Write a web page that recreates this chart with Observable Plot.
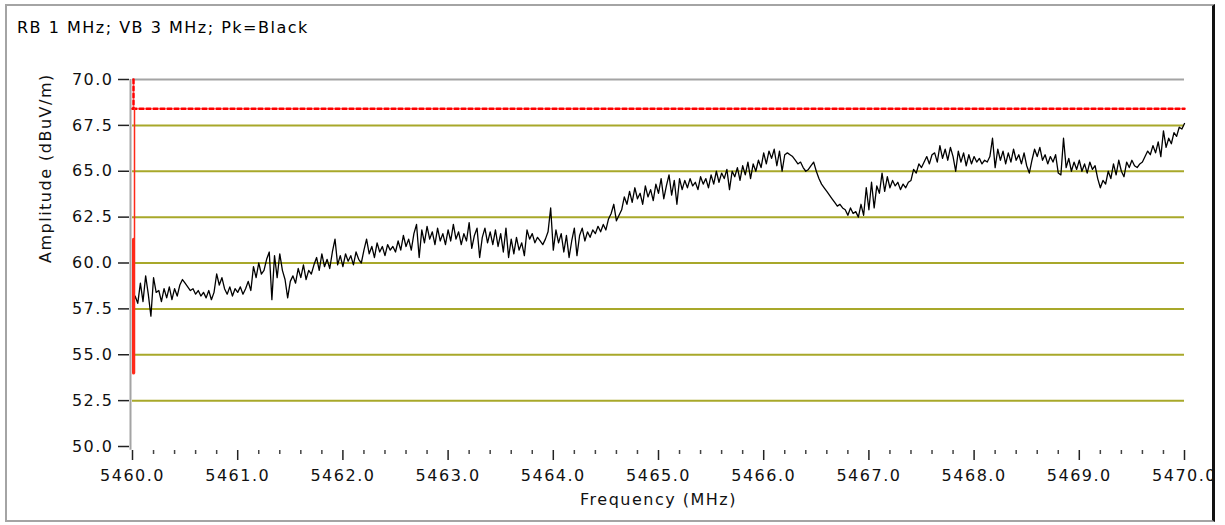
<!DOCTYPE html>
<html>
<head>
<meta charset="utf-8">
<script src="https://cdn.jsdelivr.net/npm/d3@7"></script>
<script src="https://cdn.jsdelivr.net/npm/@observablehq/plot@0.6"></script>
<style>
  html, body { margin: 0; padding: 0; background: #fff; }
  #wrap { position: relative; width: 1225px; height: 525px; overflow: hidden; background: #fff; }
  #border { position: absolute; left: 5px; top: 4px; width: 1210px; height: 518px; box-sizing: border-box;
            border-left: 2px solid #a4a4a4; border-top: 2px solid #a4a4a4; border-bottom: 2px solid #a4a4a4;
            border-right: 3px solid #111; z-index: 5; pointer-events: none; }
  #title { position: absolute; left: 17px; top: 18px; font-family: "DejaVu Sans", sans-serif; font-size: 16px;
           letter-spacing: 1.5px; color: #000; white-space: pre; }
  #chart { position: absolute; left: 0; top: 50px; width: 1212px; height: 472px; overflow: hidden; }
  #chart svg text { letter-spacing: 1.5px; }
</style>
</head>
<body>
<div id="wrap">
  <div id="title"></div>
  <div id="chart"></div>
  <div id="border"></div>
</div>
<script>
// ---- data ----
const titleText = "RB 1 MHz; VB 3 MHz; Pk=Black";
const xLabel = "Frequency (MHz)";
const yLabel = "Amplitude (dBuV/m)";

const sweepStart = 5460.0;   // MHz
const sweepStop = 5470.0;    // MHz

// peak trace (dBuV/m), equally spaced samples across the sweep
const amplitude = [
  57.6, 58.2, 57.8, 58.9, 57.9, 59.3, 58.3, 57.1, 59.2, 58.4,
  58.5, 57.9, 58.6, 58.1, 58.7, 58.0, 58.6, 58.2, 58.8, 59.1,
  58.9, 58.7, 58.5, 58.6, 58.3, 58.5, 58.2, 58.4, 58.1, 58.5,
  58.0, 58.4, 59.4, 58.8, 59.2, 58.6, 58.3, 58.7, 58.2, 58.6,
  58.4, 58.7, 58.3, 58.6, 59.0, 58.5, 59.8, 59.2, 60.0, 59.4,
  59.6, 60.2, 60.6, 58.0, 60.4, 59.2, 60.5, 59.6, 59.1, 58.1,
  59.0, 59.3, 58.9, 59.7, 59.2, 59.9, 59.1, 59.6, 59.4, 59.9,
  60.3, 59.6, 60.5, 59.8, 60.2, 59.7, 60.6, 61.3, 59.9, 60.4,
  59.8, 60.5, 60.1, 60.4, 59.9, 60.6, 60.2, 60.0, 60.7, 61.3,
  60.5, 60.9, 60.3, 61.1, 60.6, 60.9, 60.4, 61.0, 60.7, 60.9,
  60.6, 61.2, 60.7, 61.5, 60.9, 61.3, 60.7, 61.6, 62.1, 60.3,
  61.8, 61.1, 62.0, 61.3, 61.7, 61.0, 61.9, 61.2, 61.6, 61.0,
  61.8, 61.2, 62.1, 61.3, 61.7, 61.0, 61.6, 61.2, 62.2, 60.8,
  61.5, 61.9, 60.3, 61.4, 61.9, 61.1, 61.7, 61.0, 61.8, 60.9,
  61.6, 60.6, 61.9, 60.3, 61.3, 60.5, 61.4, 60.7, 61.1, 60.4,
  61.8, 61.3, 61.6, 61.1, 61.4, 61.2, 61.0, 61.3, 61.7, 63.0,
  60.7, 61.8, 61.1, 61.6, 60.6, 61.5, 60.3, 61.2, 61.9, 60.4,
  61.5, 61.9, 61.2, 61.7, 61.4, 61.8, 61.6, 62.0, 61.7, 62.1,
  61.8, 62.4, 62.7, 63.2, 62.3, 62.6, 62.9, 63.6, 63.2, 63.9,
  63.3, 64.1, 63.5, 63.8, 63.2, 64.2, 63.6, 64.0, 63.4, 64.3,
  63.8, 64.6, 63.5, 64.2, 64.8, 63.7, 64.5, 63.2, 64.6, 64.0,
  64.5, 64.1, 64.6, 64.2, 64.4, 64.0, 64.7, 64.3, 64.6, 64.1,
  64.8, 64.3, 65.0, 64.4, 64.9, 64.6, 65.1, 64.0, 65.0, 64.7,
  65.2, 64.5, 65.3, 64.8, 65.5, 64.6, 65.4, 65.0, 65.6, 65.2,
  66.0, 65.4, 66.1, 65.7, 66.2, 65.3, 66.1, 65.0, 65.9, 66.0,
  65.9, 65.8, 65.6, 65.4, 65.5, 65.2, 65.0, 65.1, 65.3, 65.5,
  65.0, 64.6, 64.3, 64.1, 63.9, 63.7, 63.5, 63.3, 63.1, 63.2,
  63.0, 62.9, 62.6, 63.0, 62.7, 62.8, 62.5, 63.2, 62.6, 64.1,
  62.9, 64.4, 63.0, 64.2, 63.8, 64.9, 63.9, 64.7, 64.1, 64.5,
  64.2, 64.4, 64.0, 64.3, 64.1, 64.4, 64.5, 65.1, 64.9, 65.4,
  65.2, 65.5, 65.8, 65.4, 65.9, 66.0, 65.5, 66.4, 65.7, 66.2,
  65.6, 66.3, 65.8, 65.0, 66.1, 65.5, 66.0, 65.3, 65.9, 65.4,
  65.8, 65.5, 65.7, 65.4, 65.6, 65.5, 65.8, 66.8, 65.2, 66.2,
  65.6, 66.1, 65.4, 66.0, 65.5, 66.2, 65.6, 65.9, 65.4, 66.0,
  65.3, 64.9, 65.6, 66.2, 65.8, 66.3, 65.6, 65.9, 65.4, 65.8,
  65.5, 65.9, 64.9, 64.8, 66.8, 65.2, 65.7, 65.0, 65.5, 65.1,
  65.6, 65.0, 65.4, 64.9, 65.5, 65.1, 65.3, 64.6, 64.1, 64.5,
  64.3, 65.0, 64.6, 65.4, 64.8, 65.6, 65.0, 64.7, 65.5, 65.2,
  65.6, 65.3, 65.2, 65.4, 65.5, 65.8, 66.1, 65.9, 66.4, 66.0,
  66.6, 65.8, 67.2, 66.3, 66.8, 66.5, 67.1, 66.9, 67.4, 67.3,
  67.6
];

// limit line (red)
const limitLevel = 68.4;
const limitTop = 70.0;
const limitDropTo = 54.0;
const limitThickFrom = 61.3;

// axes
const yTicks = [50.0, 52.5, 55.0, 57.5, 60.0, 62.5, 65.0, 67.5, 70.0];
const gridLevels = [52.5, 55.0, 57.5, 60.0, 62.5, 65.0, 67.5];
const topLevel = [70.0];
const xMajorTicks = [5460, 5461, 5462, 5463, 5464, 5465, 5466, 5467, 5468, 5469, 5470];
const xMinorTicks = d3.range(0, 51).map(i => 5460 + i * 0.2).filter((d, i) => i % 5 !== 0);

// ---- build ----
const n = amplitude.length;
const trace = amplitude.map((v, i) => ({f: sweepStart + (sweepStop - sweepStart) * i / (n - 1), v}));
const limitH = [{f: sweepStart, v: limitLevel}, {f: sweepStop, v: limitLevel}];
const limitVDotted = [{f: sweepStart, v: limitTop}, {f: sweepStart, v: limitLevel}];
const limitVSolid = [{f: sweepStart, v: limitLevel}, {f: sweepStart, v: limitDropTo}];
const limitVThick = [{f: sweepStart, v: limitThickFrom}, {f: sweepStart, v: limitDropTo}];

document.getElementById("title").textContent = titleText;

const FONT = "DejaVu Sans";
const chart = Plot.plot({
  width: 1212,
  height: 472,
  marginLeft: 132,
  marginRight: 28,
  marginTop: 29,
  marginBottom: 76,
  x: {domain: [sweepStart, sweepStop]},
  y: {domain: [50, 70]},
  style: {background: "transparent", fontFamily: FONT, fontSize: "16px", color: "#000", overflow: "hidden"},
  marks: [
    Plot.ruleY(gridLevels, {stroke: "#a8a82a", strokeWidth: 2}),
    Plot.ruleY(topLevel, {stroke: "#a4a4a4", strokeWidth: 2}),
    Plot.ruleX([sweepStart], {y1: 49.8, y2: 70, dx: -2, stroke: "#a4a4a4", strokeWidth: 2}),
    Plot.axisY(yTicks, {tickSize: 11, tickPadding: 5, dx: -3, strokeWidth: 1.5, stroke: "#222",
      tickFormat: d => d.toFixed(1), fontSize: 16, fill: "#111", label: null}),
    Plot.axisX(xMajorTicks, {tickSize: 10, tickPadding: 9, dy: 4, strokeWidth: 1.5, stroke: "#222",
      tickFormat: d => d.toFixed(1), fontSize: 16, fill: "#111", label: null}),
    Plot.axisX(xMinorTicks, {tickSize: 4, dy: 4, strokeWidth: 1.5, stroke: "#444", tickFormat: () => "", label: null}),
    Plot.line(trace, {x: "f", y: "v", stroke: "#000", strokeWidth: 1.3}),
    Plot.line(limitH, {x: "f", y: "v", stroke: "#ff0000", strokeWidth: 2.5, strokeDasharray: "4,3"}),
    Plot.line(limitVDotted, {x: "f", y: "v", stroke: "#ff0000", strokeWidth: 2.5, strokeDasharray: "4,3", dx: 1}),
    Plot.line(limitVSolid, {x: "f", y: "v", stroke: "#ff2a1a", strokeWidth: 1.5, dx: 2}),
    Plot.line(limitVThick, {x: "f", y: "v", stroke: "#ff2a1a", strokeWidth: 3, dx: 1}),
    Plot.text([xLabel], {text: d => d, frameAnchor: "bottom", dy: 58, fontSize: 16, fill: "#111"}),
    Plot.text([yLabel], {text: d => d, frameAnchor: "left", dx: -87, rotate: -90, fontSize: 16, fill: "#111"})
  ]
});
document.getElementById("chart").appendChild(chart);
</script>
</body>
</html>
